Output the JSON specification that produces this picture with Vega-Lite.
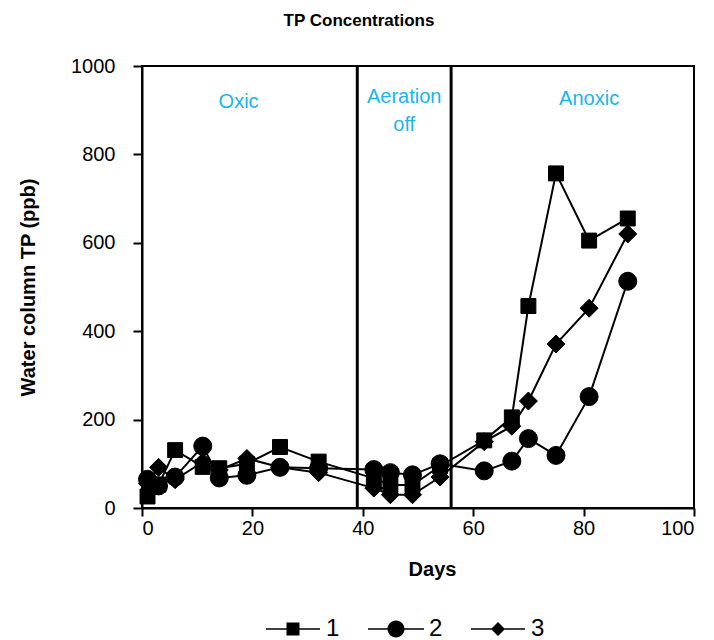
{
  "$schema": "https://vega.github.io/schema/vega-lite/v6.json",
  "autosize": "none",
  "width": 552,
  "height": 442,
  "padding": {"left": 142, "top": 66, "right": 20, "bottom": 132},
  "background": "white",
  "title": {
    "text": "TP Concentrations",
    "font": "Liberation Sans",
    "fontSize": 17,
    "fontWeight": "bold",
    "color": "black",
    "anchor": "middle",
    "frame": "group",
    "dx": -59,
    "offset": 26
  },
  "config": {
    "view": {"stroke": "black", "strokeWidth": 2},
    "axis": {
      "grid": false,
      "domainColor": "black",
      "domainWidth": 2,
      "tickColor": "black",
      "tickWidth": 2,
      "labelFont": "Liberation Sans",
      "labelFontSize": 20,
      "labelColor": "black",
      "titleFont": "Liberation Sans",
      "titleFontSize": 20,
      "titleFontWeight": "bold",
      "titleColor": "black"
    }
  },
  "resolve": {"scale": {"shape": "independent"}},
  "datasets": {
    "tp": [
      {"day": 1, "tp": 26, "series": "1"},
      {"day": 3, "tp": 53, "series": "1"},
      {"day": 6, "tp": 131, "series": "1"},
      {"day": 11, "tp": 93, "series": "1"},
      {"day": 14, "tp": 90, "series": "1"},
      {"day": 19, "tp": 100, "series": "1"},
      {"day": 25, "tp": 138, "series": "1"},
      {"day": 32, "tp": 105, "series": "1"},
      {"day": 42, "tp": 67, "series": "1"},
      {"day": 45, "tp": 52, "series": "1"},
      {"day": 49, "tp": 52, "series": "1"},
      {"day": 54, "tp": 95, "series": "1"},
      {"day": 62, "tp": 153, "series": "1"},
      {"day": 67, "tp": 205, "series": "1"},
      {"day": 70, "tp": 457, "series": "1"},
      {"day": 75, "tp": 757, "series": "1"},
      {"day": 81, "tp": 605, "series": "1"},
      {"day": 88, "tp": 655, "series": "1"},
      {"day": 1, "tp": 65, "series": "2"},
      {"day": 3, "tp": 50, "series": "2"},
      {"day": 6, "tp": 70, "series": "2"},
      {"day": 11, "tp": 140, "series": "2"},
      {"day": 14, "tp": 68, "series": "2"},
      {"day": 19, "tp": 74, "series": "2"},
      {"day": 25, "tp": 92, "series": "2"},
      {"day": 32, "tp": 90, "series": "2"},
      {"day": 42, "tp": 87, "series": "2"},
      {"day": 45, "tp": 80, "series": "2"},
      {"day": 49, "tp": 75, "series": "2"},
      {"day": 54, "tp": 100, "series": "2"},
      {"day": 62, "tp": 84, "series": "2"},
      {"day": 67, "tp": 106, "series": "2"},
      {"day": 70, "tp": 157, "series": "2"},
      {"day": 75, "tp": 119, "series": "2"},
      {"day": 81, "tp": 252, "series": "2"},
      {"day": 88, "tp": 513, "series": "2"},
      {"day": 1, "tp": 55, "series": "3"},
      {"day": 3, "tp": 92, "series": "3"},
      {"day": 6, "tp": 64, "series": "3"},
      {"day": 11, "tp": 104, "series": "3"},
      {"day": 14, "tp": 86, "series": "3"},
      {"day": 19, "tp": 112, "series": "3"},
      {"day": 25, "tp": 92, "series": "3"},
      {"day": 32, "tp": 80, "series": "3"},
      {"day": 42, "tp": 45, "series": "3"},
      {"day": 45, "tp": 30, "series": "3"},
      {"day": 49, "tp": 30, "series": "3"},
      {"day": 54, "tp": 70, "series": "3"},
      {"day": 62, "tp": 150, "series": "3"},
      {"day": 67, "tp": 185, "series": "3"},
      {"day": 70, "tp": 242, "series": "3"},
      {"day": 75, "tp": 371, "series": "3"},
      {"day": 81, "tp": 452, "series": "3"},
      {"day": 88, "tp": 620, "series": "3"}
    ],
    "phases": [
      {"day": 39},
      {"day": 56}
    ],
    "phaseLabels": [
      {"day": 17.5, "tp": 918, "label": "Oxic"},
      {"day": 47.5, "tp": 930, "label": "Aeration"},
      {"day": 47.5, "tp": 866, "label": "off"},
      {"day": 81, "tp": 925, "label": "Anoxic"}
    ]
  },
  "encoding": {
    "x": {
      "field": "day",
      "type": "quantitative",
      "scale": {"domain": [0, 100], "nice": false, "zero": false},
      "axis": {
        "values": [0, 20, 40, 60, 80, 100],
        "tickSize": 8,
        "labelPadding": 2,
        "title": "Days",
        "titleX": 290,
        "titleY": 61,
        "titleBaseline": "middle"
      }
    },
    "y": {
      "field": "tp",
      "type": "quantitative",
      "scale": {"domain": [0, 1000], "nice": false},
      "axis": {
        "values": [0, 200, 400, 600, 800, 1000],
        "format": "d",
        "tickSize": 9,
        "labelPadding": 18,
        "title": "Water column TP (ppb)",
        "titleX": -114,
        "titleY": 221,
        "titleAngle": -90,
        "titleBaseline": "middle"
      }
    }
  },
  "layer": [
    {
      "data": {"name": "phases"},
      "mark": {"type": "rule", "color": "black", "strokeWidth": 3},
      "encoding": {"y": null}
    },
    {
      "data": {"name": "phaseLabels"},
      "mark": {"type": "text", "font": "Liberation Sans", "fontSize": 20, "color": "#19B4F0", "baseline": "middle", "align": "center"},
      "encoding": {"text": {"field": "label"}}
    },
    {
      "data": {"name": "tp"},
      "mark": {"type": "line", "color": "black", "strokeWidth": 2},
      "encoding": {"detail": {"field": "series"}}
    },
    {
      "data": {"name": "tp"},
      "mark": {"type": "point", "filled": true, "color": "black", "opacity": 1, "size": 324, "stroke": "black", "strokeWidth": 1},
      "encoding": {
        "shape": {
          "field": "series",
          "type": "nominal",
          "scale": {
            "domain": ["1", "2", "3"],
            "range": ["M-0.83,-0.83H0.83V0.83H-0.83Z", "circle", "diamond"]
          },
          "legend": null
        }
      }
    },
    {
      "description": "Zero-size points that only carry the line-and-marker legend keys",
      "data": {"name": "tp"},
      "mark": {"type": "point", "filled": true, "color": "black", "opacity": 1, "size": 0},
      "encoding": {
        "shape": {
          "field": "series",
          "type": "nominal",
          "scale": {
            "domain": ["1", "2", "3"],
            "range": [
              "M-5.4,-0.16H5.4V0.16H-5.4ZM-1.3,-1.3H1.3V1.3H-1.3Z",
              "M-5.6,-0.16H5.6V0.16H-5.6ZM1.7,0C1.7,0.939,0.939,1.7,0,1.7C-0.939,1.7,-1.7,0.939,-1.7,0C-1.7,-0.939,-0.939,-1.7,0,-1.7C0.939,-1.7,1.7,-0.939,1.7,0Z",
              "M-5.4,-0.16H5.4V0.16H-5.4ZM0,-1.4L1.4,0L0,1.4L-1.4,0Z"
            ]
          },
          "legend": {
            "title": null,
            "orient": "none",
            "direction": "horizontal",
            "legendX": 139,
            "legendY": 551,
            "symbolSize": 100,
            "symbolFillColor": "black",
            "labelFont": "Liberation Sans",
            "labelFontSize": 24,
            "labelColor": "black",
            "labelOffset": 21,
            "columnPadding": 25
          }
        }
      }
    }
  ]
}
